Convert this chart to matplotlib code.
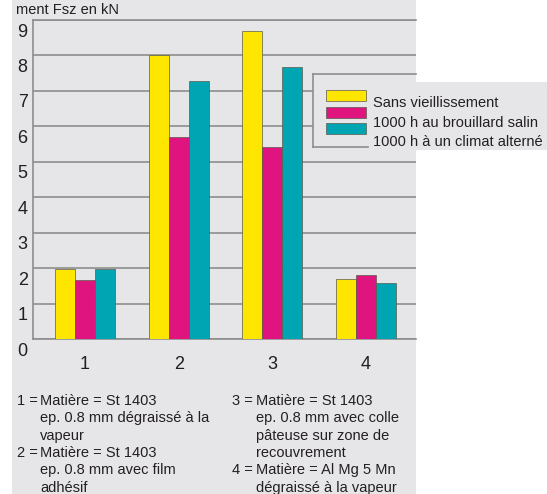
import matplotlib
matplotlib.use("Agg")
import matplotlib.pyplot as plt
from matplotlib.patches import Rectangle
from matplotlib.lines import Line2D
from matplotlib.transforms import ScaledTranslation
import numpy as np

plt.rcParams['font.family'] = ['Liberation Sans', 'DejaVu Sans']

# force de décollement par éprouvette (kN)
groupes = ['1', '2', '3', '4']
series = ['Sans vieillissement', '1000 h au brouillard salin', '1000 h à un climat alterné']
sans_vieill = [1.97, 8.01, 8.69, 1.69]
brouillard = [1.67, 5.71, 5.43, 1.80]
climat = [1.98, 7.28, 7.68, 1.59]
couleurs = ['#ffe600', '#e0147f', '#00a5b4']
yticks = list(range(10))

notes_g = ['1 =', 'Matière = St 1403', 'ep. 0.8 mm dégraissé à la', 'vapeur',
           '2 =', 'Matière = St 1403', 'ep. 0.8 mm avec film', 'adhésif']
notes_d = ['3 =', 'Matière = St 1403', 'ep. 0.8 mm avec colle', 'pâteuse sur zone de',
           'recouvrement', '4 =', 'Matière = Al Mg 5 Mn', 'dégraissé à la vapeur']

W, H = 547, 494
fond = '#e6e6e9'
grille = '#8e8e8e'
txt = '#231f20'


def fx(p):
    return p / W


def fy(p):
    return 1 - p / H


fig = plt.figure(figsize=(W / 100, H / 100), dpi=100)
fig.patch.set_facecolor('white')
fig.patches.append(Rectangle((fx(12), 0), fx(416) - fx(12), 1, transform=fig.transFigure,
                             facecolor=fond, edgecolor='none', zorder=-5))

ax = fig.add_axes([fx(33.3), fy(339.3), fx(416) - fx(33.3), fy(20) - fy(339.3)])
ax.set_facecolor('none')
ax.set_zorder(1)

x = np.arange(len(groupes))
w = 0.2134
for i, (vals, c) in enumerate(zip([sans_vieill, brouillard, climat], couleurs)):
    ax.bar(x + (i - 1) * w, vals, w, color=c, edgecolor='#5a5a4a', linewidth=0.5, zorder=3)

ax.set_xlim(-0.552, 3.533)
ax.set_ylim(0, 9)
ax.set_yticks(yticks)
ax.set_yticklabels([str(t) for t in yticks])
ax.set_xticks(x)
ax.set_xticklabels(groupes)
ax.yaxis.grid(True, color=grille, linewidth=1.2, zorder=1)
ax.set_axisbelow(True)
for s in ['left', 'top', 'bottom']:
    ax.spines[s].set_color(grille)
    ax.spines[s].set_linewidth(1.2)
ax.spines['right'].set_visible(False)
ax.tick_params(axis='both', length=0, labelsize=13, colors=txt)
ax.tick_params(axis='y', pad=4)
ax.tick_params(axis='x', pad=12)
decal = ScaledTranslation(0, -0.1, fig.dpi_scale_trans)
for lab in ax.get_yticklabels():
    lab.set_transform(lab.get_transform() + decal)

fig.text(fx(16), fy(14), 'ment Fsz en kN', fontsize=10.5, color=txt, va='baseline')

# cadre de la légende
fig.patches.append(Rectangle((fx(313.3), fy(147.3)), fx(416) - fx(313.3), fy(74) - fy(147.3),
                             transform=fig.transFigure, facecolor=fond, edgecolor='none', zorder=4))
fig.patches.append(Rectangle((fx(321), fy(150)), fx(548) - fx(321), fy(81.7) - fy(150),
                             transform=fig.transFigure, facecolor=fond, edgecolor='none', zorder=5))
for xs, ys in [([313.3, 313.3], [74, 147.3]), ([313.3, 416], [74, 74]), ([313.3, 368], [147.3, 147.3])]:
    fig.lines.append(Line2D([fx(v) for v in xs], [fy(v) for v in ys], transform=fig.transFigure,
                            color=grille, linewidth=1.2, zorder=6))
for i, (nom, c) in enumerate(zip(series, couleurs)):
    y0 = 90 + i * 16.7
    fig.patches.append(Rectangle((fx(326), fy(y0 + 11)), fx(366) - fx(326), fy(y0) - fy(y0 + 11),
                                 transform=fig.transFigure, facecolor=c, edgecolor='#5a5a4a',
                                 linewidth=0.5, zorder=7))
    fig.text(fx(373.3), fy(107.3 + i * 19.4), nom, fontsize=10.5, color=txt, va='baseline', zorder=7)

# notes sous le graphique
def notes(lignes, xn, xt):
    k = 0
    for ligne in lignes:
        yb = fy(405 + k * 17.3)
        if ligne.endswith('='):
            fig.text(fx(xn), yb, ligne, fontsize=10.5, color=txt, va='baseline')
            continue
        fig.text(fx(xt), yb, ligne, fontsize=10.5, color=txt, va='baseline')
        k += 1


notes(notes_g, 16.7, 40)
notes(notes_d, 232, 256)

fig.savefig('out.png', dpi=100)
